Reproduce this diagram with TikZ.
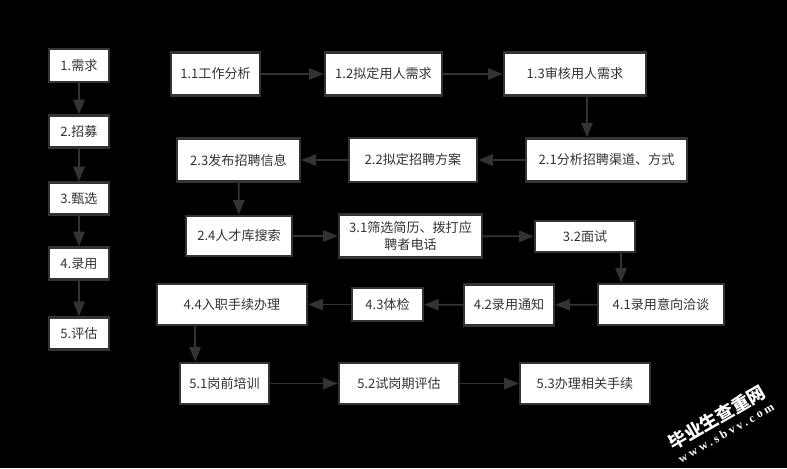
\documentclass[tikz,border=0pt]{standalone}
\usepackage{fontspec}
\setmainfont{Noto Sans CJK SC}
\newfontfamily\markfont[LetterSpace=25]{Liberation Serif}
\usetikzlibrary{arrows.meta}
\definecolor{boxline}{HTML}{333333}
\tikzset{
	stepbox/.style={draw=boxline,fill=white,text=boxline,line width=1.8pt,inner sep=0pt,align=center,font=\fontsize{9.8}{13}\selectfont},
	flow/.style={draw=boxline,line width=1.4pt,-{Triangle[length=11pt,width=8.5pt]}},
	mark text/.style={text=white,rotate=30,inner sep=0pt}
}
\begin{document}
\begin{tikzpicture}[x=0.75pt,y=-0.75pt]
	\useasboundingbox[fill=black] (0,0) rectangle (787,468);

	% draw left column
	\foreach \name/\cy/\h/\txt in {m1/65.5/33/1.需求, m2/131.5/32/2.招募, m3/198.5/32/3.甄选, m4/263.5/32/4.录用, m5/333.5/32/5.评估}
	{
		\node (\name) at (79,\cy) [stepbox,minimum width=45pt,minimum height=\h*0.75pt] {\txt};
	}

	% draw left column arrows
	\foreach \a/\b in {m1/m2,m2/m3,m3/m4,m4/m5}
	{
		\draw[flow] (\a) -- (\b);
	}

	% draw row 1
	\node (s11) at (215.5,74) [stepbox,minimum width=66.75pt,minimum height=32pt] {1.1工作分析};
	\node (s12) at (383.5,74) [stepbox,minimum width=88pt,minimum height=32pt] {1.2拟定用人需求};
	\node (s13) at (575,74) [stepbox,minimum width=106.5pt,minimum height=32pt] {1.3审核用人需求};

	% draw row 2
	\node (s21) at (606.5,160) [stepbox,minimum width=121pt,minimum height=32pt] {2.1分析招聘渠道、方式};
	\node (s22) at (413,160) [stepbox,minimum width=96pt,minimum height=33pt] {2.2拟定招聘方案};
	\node (s23) at (238.5,160) [stepbox,minimum width=92.25pt,minimum height=32pt] {2.3发布招聘信息};

	% draw row 3
	\node (s24) at (239,236) [stepbox,minimum width=79.5pt,minimum height=30pt] {2.4人才库搜索};
	\node (s31) at (410.5,236) [stepbox,minimum width=107.25pt,minimum height=32pt] {3.1筛选简历、拨打应\\聘者电话};
	\node (s32) at (585,236.5) [stepbox,minimum width=75pt,minimum height=23.25pt] {3.2面试};

	% draw row 4
	\node (s41) at (661,304.5) [stepbox,minimum width=94.5pt,minimum height=31pt] {4.1录用意向洽谈};
	\node (s42) at (509,305) [stepbox,minimum width=67.5pt,minimum height=31pt] {4.2录用通知};
	\node (s43) at (387.5,304.5) [stepbox,minimum width=53pt,minimum height=25pt] {4.3体检};
	\node (s44) at (232,304.5) [stepbox,minimum width=112.5pt,minimum height=31pt] {4.4入职手续办理};

	% draw row 5
	\node (s51) at (224.5,383.5) [stepbox,minimum width=67pt,minimum height=31pt] {5.1岗前培训};
	\node (s52) at (399,383.5) [stepbox,minimum width=90pt,minimum height=31pt] {5.2试岗期评估};
	\node (s53) at (585,383.5) [stepbox,minimum width=97.5pt,minimum height=31pt] {5.3办理相关手续};

	% draw arrows along the rows
	\foreach \a/\b in {s11/s12,s12/s13,s21/s22,s22/s23,s24/s31,s31/s32,s41/s42,s42/s43,s43/s44,s51/s52,s52/s53,s23/s24}
	{
		\draw[flow] (\a) -- (\b);
	}

	% draw arrows that leave a box off centre
	\draw[flow] ([xshift=9pt]s13.south) -- ([xshift=-14.6pt]s21.north);
	\draw[flow] ([xshift=27pt]s32.south) -- ([xshift=-30pt]s41.north);
	\draw[flow] ([xshift=-27.75pt]s44.south) -- ([xshift=-22pt]s51.north);

	% draw watermark
	\node (mark1) at (717,418) [mark text,font=\bfseries\fontsize{13.5}{14}\selectfont] {毕业生查重网};
	\node (mark2) at (726,433) [mark text,font=\markfont\bfseries\fontsize{9}{9}\selectfont] {www.sbvv.com};
\end{tikzpicture}
\end{document}
